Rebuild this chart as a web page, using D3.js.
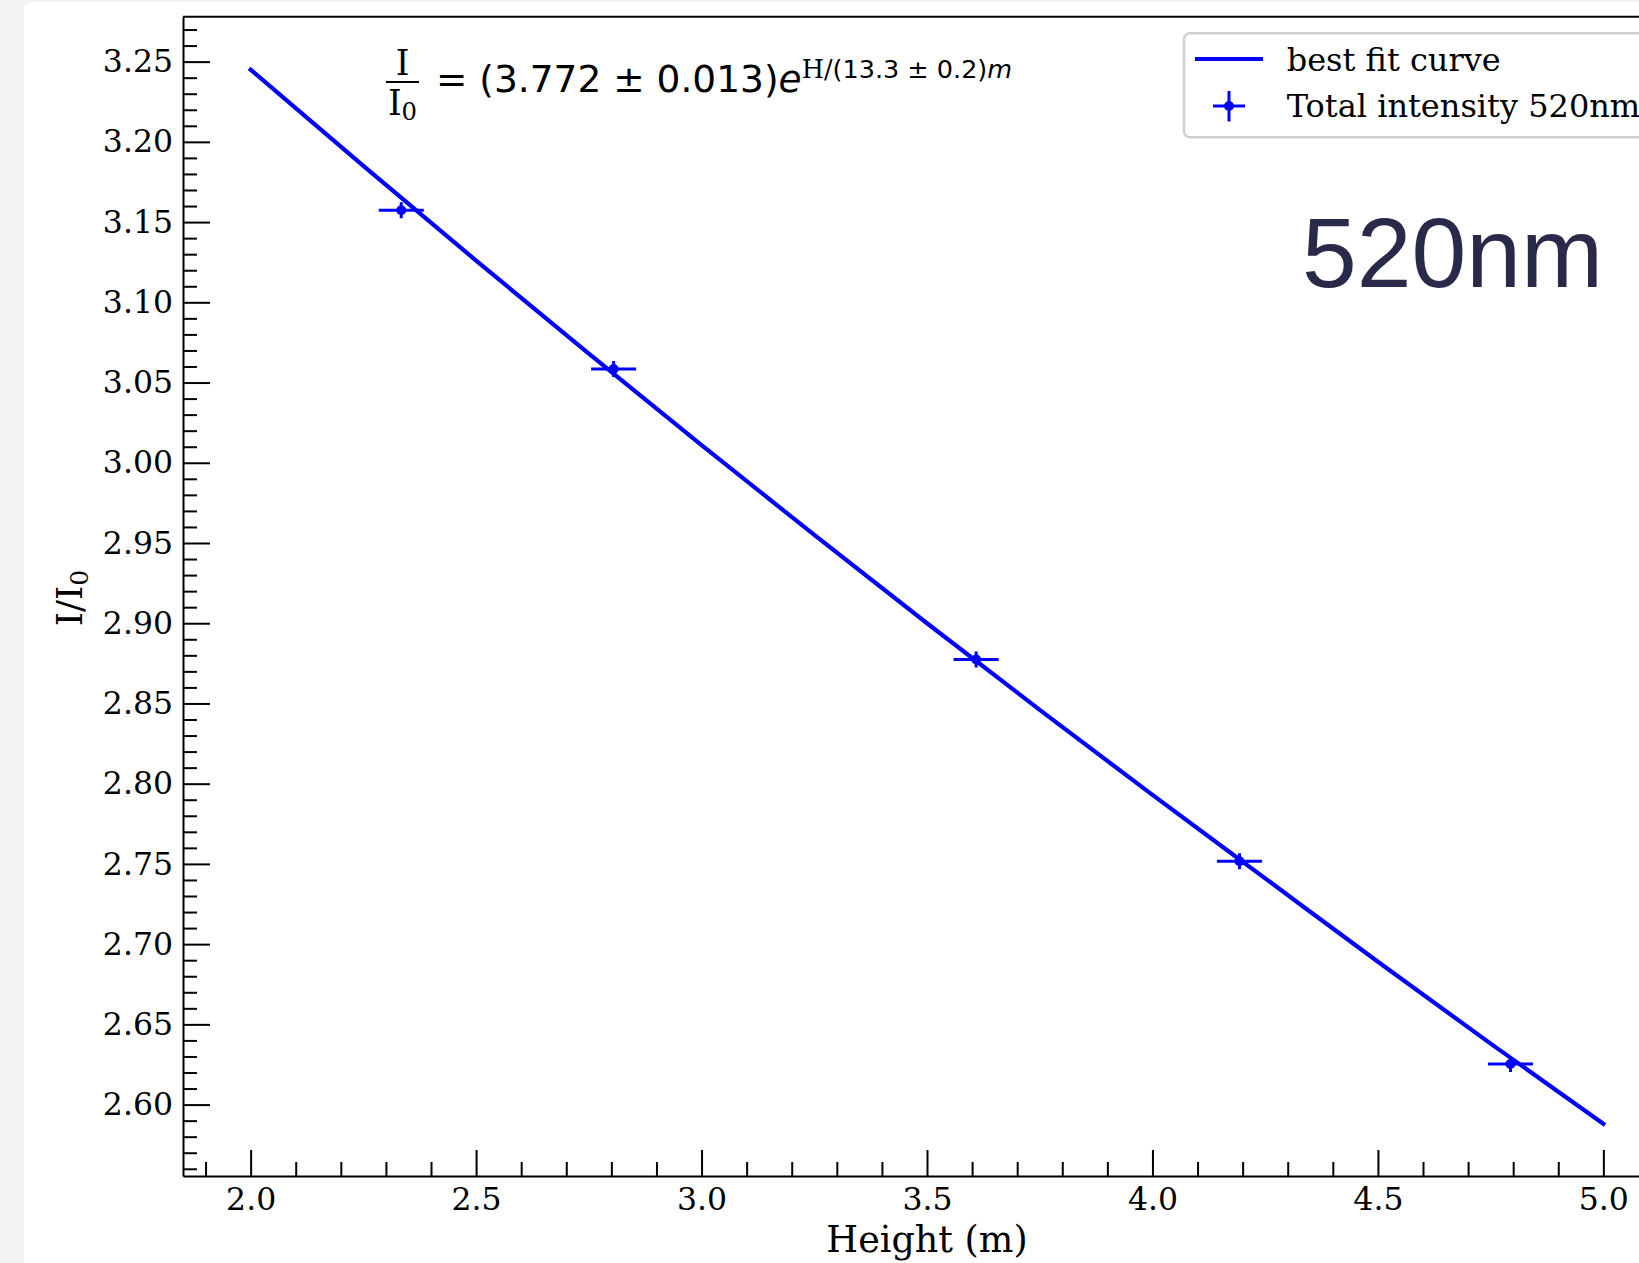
<!DOCTYPE html>
<html>
<head>
<meta charset="utf-8">
<script src="https://cdn.jsdelivr.net/npm/d3@7"></script>
<style>
  html, body { margin: 0; padding: 0; background: #f2f2f0; }
  svg { display: block; }
  .axis text { font-family: "DejaVu Serif", serif; font-size: 31.5px; fill: #000; }
  .axis path, .axis line { stroke: #000; stroke-width: 2; }
</style>
</head>
<body>
<div id="chart"></div>
<script>
/* I/I0 vs height at 520nm: fit curve + measured points with error bars.
   Axes styled like a matplotlib figure with inward ticks. */

// fit curve
const fitHeight = [2.0, 2.25, 2.5, 2.75, 3.0, 3.25, 3.5, 3.75, 4.0, 4.25, 4.5, 4.75, 5.0];
const fitRatio  = [3.245, 3.185, 3.126, 3.068, 3.011, 2.955, 2.900, 2.846, 2.793, 2.741, 2.689, 2.638, 2.588];

// measured points
const pointHeight = [2.334, 2.805, 3.609, 4.193, 4.794];
const pointRatio  = [3.1574, 3.0584, 2.8774, 2.7517, 2.6253];
const heightErr   = [0.05, 0.05, 0.05, 0.05, 0.05];
const ratioErr    = [0.005, 0.005, 0.005, 0.005, 0.005];

// tick labels
const xTicks = [2.0, 2.5, 3.0, 3.5, 4.0, 4.5, 5.0];
const yTicks = [2.60, 2.65, 2.70, 2.75, 2.80, 2.85, 2.90, 2.95, 3.00, 3.05, 3.10, 3.15, 3.20, 3.25];

const legendLabels = ["best fit curve", "Total intensity 520nm"];
const BLUE = "#0000ff";

const W = 1639, H = 1263;
const svg = d3.select("#chart").append("svg").attr("width", W).attr("height", H);

// grey strip on the left + white card
svg.append("rect").attr("x", 0).attr("y", 0).attr("width", W).attr("height", H).attr("fill", "#f2f2f0");
svg.append("rect").attr("x", 24).attr("y", 2).attr("width", W + 40).attr("height", H + 40)
    .attr("rx", 8).attr("fill", "#fff");

const x = d3.scaleLinear().domain([1.85, 5.15]).range([183, 1671]);
const y = d3.scaleLinear().domain([2.5555, 3.278]).range([1176, 16.7]);

// minor ticks first (no labels)
svg.append("g").attr("class", "axis").attr("transform", "translate(0,1176)")
    .call(d3.axisBottom(x).tickValues(d3.range(1.9, 5.15, 0.1).filter(v => Math.abs(v * 2 - Math.round(v * 2)) > 0.01))
      .tickSize(-14).tickSizeOuter(0).tickFormat(""))
    .call(g => g.select(".domain").remove());
svg.append("g").attr("class", "axis").attr("transform", "translate(183,0)")
    .call(d3.axisLeft(y).tickValues(d3.range(2.56, 3.275, 0.01).filter(v => Math.abs(v * 20 - Math.round(v * 20)) > 0.01))
      .tickSize(-14).tickSizeOuter(0).tickFormat(""))
    .call(g => g.select(".domain").remove());

// major ticks + labels
svg.append("g").attr("class", "axis").attr("transform", "translate(0,1176)")
    .call(d3.axisBottom(x).tickValues(xTicks).tickSize(-26).tickSizeOuter(0)
      .tickPadding(12).tickFormat(d3.format(".1f")));
svg.append("g").attr("class", "axis").attr("transform", "translate(183,0)")
    .call(d3.axisLeft(y).tickValues(yTicks).tickSize(-27).tickSizeOuter(0)
      .tickPadding(10).tickFormat(d3.format(".2f")));

// top spine
svg.append("line").attr("x1", 183).attr("x2", 1671).attr("y1", 16.7).attr("y2", 16.7)
    .attr("stroke", "#000").attr("stroke-width", 2);

// axis titles
svg.append("text").attr("x", 927).attr("y", 1252).attr("text-anchor", "middle")
    .style("font-family", "DejaVu Serif").style("font-size", "36.5px").text("Height (m)");
const yl = svg.append("text").attr("transform", "translate(82,598) rotate(-90)")
    .attr("text-anchor", "middle")
    .style("font-family", "DejaVu Serif").style("font-size", "36px");
yl.append("tspan").text("I/I");
yl.append("tspan").attr("dy", 6).style("font-size", "25px").text("0");

// fit curve
const line = d3.line().x((d, i) => x(fitHeight[i])).y(d => y(d)).curve(d3.curveMonotoneX);
svg.append("path").datum(fitRatio).attr("d", line)
    .attr("fill", "none").attr("stroke", BLUE).attr("stroke-width", 4.2).attr("stroke-linecap", "square");

// points with error bars
const pts = svg.append("g").selectAll("g").data(pointHeight).join("g");
pts.append("line")
    .attr("x1", (d, i) => x(d - heightErr[i])).attr("x2", (d, i) => x(d + heightErr[i]))
    .attr("y1", (d, i) => y(pointRatio[i])).attr("y2", (d, i) => y(pointRatio[i]))
    .attr("stroke", BLUE).attr("stroke-width", 3);
pts.append("line")
    .attr("x1", d => x(d)).attr("x2", d => x(d))
    .attr("y1", (d, i) => y(pointRatio[i] - ratioErr[i])).attr("y2", (d, i) => y(pointRatio[i] + ratioErr[i]))
    .attr("stroke", BLUE).attr("stroke-width", 3);
pts.append("circle").attr("cx", d => x(d)).attr("cy", (d, i) => y(pointRatio[i])).attr("r", 5)
    .attr("fill", BLUE);

// equation: I/I0 = (3.772 ± 0.013) e^{H/(13.3 ± 0.2)m}
const frac = svg.append("g").style("font-family", "DejaVu Serif").style("font-size", "34.7px");
frac.append("text").attr("x", 402.5).attr("y", 75).attr("text-anchor", "middle").text("I");
frac.append("line").attr("x1", 386).attr("x2", 419).attr("y1", 82).attr("y2", 82)
    .attr("stroke", "#000").attr("stroke-width", 2);
const den = frac.append("text").attr("x", 402.5).attr("y", 115).attr("text-anchor", "middle");
den.append("tspan").text("I");
den.append("tspan").attr("dy", 5).style("font-size", "24.3px").text("0");

const eq = svg.append("text").attr("x", 436).attr("y", 92)
    .style("font-family", "DejaVu Sans").style("font-size", "37.5px");
eq.append("tspan").text("= (3.772 ± 0.013)");
eq.append("tspan").style("font-style", "italic").text("e");
eq.append("tspan").attr("dy", -14).style("font-size", "25.5px").style("font-family", "DejaVu Serif").text("H/");
eq.append("tspan").style("font-size", "25.5px").text("(13.3 ± 0.2)");
eq.append("tspan").style("font-size", "25.5px").style("font-style", "italic").text("m");

// legend
const lg = svg.append("g");
lg.append("rect").attr("x", 1184).attr("y", 33.3).attr("width", 520).attr("height", 104).attr("rx", 6)
    .attr("fill", "#fff").attr("stroke", "#d0d0d0").attr("stroke-width", 2.5);
lg.append("line").attr("x1", 1195).attr("x2", 1263).attr("y1", 59).attr("y2", 59)
    .attr("stroke", BLUE).attr("stroke-width", 4.2);
lg.append("line").attr("x1", 1213).attr("x2", 1245).attr("y1", 106).attr("y2", 106)
    .attr("stroke", BLUE).attr("stroke-width", 3);
lg.append("line").attr("x1", 1229).attr("x2", 1229).attr("y1", 91).attr("y2", 121.5)
    .attr("stroke", BLUE).attr("stroke-width", 3);
lg.append("circle").attr("cx", 1229).attr("cy", 106).attr("r", 5).attr("fill", BLUE);
lg.selectAll("text.lab").data(legendLabels).join("text").attr("class", "lab")
    .attr("x", 1286.7).attr("y", (d, i) => i === 0 ? 70.7 : 117.3)
    .style("font-family", "DejaVu Serif").style("font-size", "32px").text(d => d);

// big wavelength tag
svg.append("text").attr("x", 1302).attr("y", 286.7)
    .style("font-family", "Liberation Sans, Arial, sans-serif").style("font-size", "98.5px")
    .attr("fill", "#29294a").text("520nm");
</script>
</body>
</html>
